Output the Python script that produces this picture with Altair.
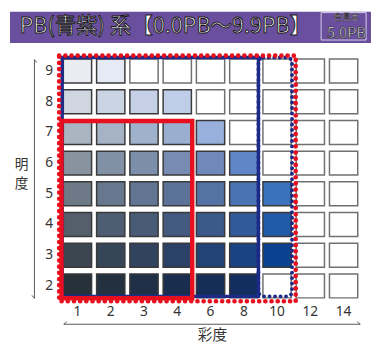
import altair as alt
import pandas as pd

# ---- data ----
chroma = [1, 2, 3, 4, 6, 8, 10, 12, 14]
values = [9, 8, 7, 6, 5, 4, 3, 2]
row9 = ["#e9edf2", "#e5eaf4", "", "", "", "", "", "", ""]
row8 = ["#cfd6df", "#cbd4e2", "#c5d0e6", "#c0cde9", "", "", "", "", ""]
row7 = ["#aab5c2", "#a6b3c6", "#a0b1cb", "#9aaed0", "#97b1dc", "", "", "", ""]
row6 = ["#87939f", "#8290a5", "#7d8eaa", "#788bb0", "#6f89ba", "#5f87c8", "", "", ""]
row5 = ["#6d7986", "#67778d", "#627593", "#5c7298", "#5572a5", "#4a73b3", "#3a72bc", "", ""]
row4 = ["#545f6b", "#4f5d72", "#4a5b78", "#43597f", "#3b598b", "#305a9a", "#215aa6", "", ""]
row3 = ["#3c4651", "#374558", "#32435f", "#2b4166", "#224376", "#1a4384", "#0b428f", "", ""]
row2 = ["#27313a", "#23303f", "#1e2f46", "#192e4e", "#142e58", "#122d5f", "", "", ""]
rows = [row9, row8, row7, row6, row5, row4, row3, row2]

# frames: chroma range and value range they enclose
frame_names = ["blue", "bluedot", "reddot", "red"]
frame_c_lo = [1, 10, 1, 1]
frame_c_hi = [8, 10, 10, 4]
frame_v_lo = [2, 2, 2, 2]
frame_v_hi = [9, 9, 9, 7]

title_text = "PB(青紫) 系【0.0PB～9.9PB】"
sample_top = "色見本"
sample_main = "5.0PB"
x_title = "彩度"
y_title = ["明", "度"]

# ---- build tables ----
recs = []
for v, row in zip(values, rows):
    for i, (c, col) in enumerate(zip(chroma, row)):
        recs.append({
            "idx": i, "v": v, "chroma": c,
            "fill": col if col else "#ffffff",
            "border": "#3a3a3a" if col else "#707070",
        })
cells = pd.DataFrame(recs)
xlab_df = pd.DataFrame({"idx": list(range(len(chroma))), "label": [str(c) for c in chroma]})
ylab_df = pd.DataFrame({"v": values, "label": [str(v) for v in values]})

# paddings (style) for each frame, in scale units
frame_pad = {
    "blue": (-0.46, 0.44, -0.34, 0.44),
    "bluedot": (-0.56, 0.45, -0.34, 0.44),
    "reddot": (-0.55, 0.56, -0.5, 0.5),
    "red": (-0.48, 0.45, -0.4, 0.37),
}
frame_style = {
    "blue": dict(stroke="#1c2a88", strokeWidth=3.5),
    "bluedot": dict(stroke="#1c2a88", strokeWidth=4, strokeDash=[0.01, 5.6], strokeCap="round", cornerRadius=5),
    "reddot": dict(stroke="#e8101e", strokeWidth=4.8, strokeDash=[0.01, 6.3], strokeCap="round"),
    "red": dict(stroke="#e8101e", strokeWidth=4.5),
}

W, H = 306, 251
xs = alt.Scale(domain=[-0.5, 8.5])
ys = alt.Scale(domain=[1.5, 9.5])

base = alt.Chart(cells).transform_calculate(
    x0="datum.idx - 0.425", x1="datum.idx + 0.425",
    y0="datum.v - 0.39", y1="datum.v + 0.39",
)
cell_layer = base.mark_rect(strokeWidth=1.5).encode(
    x=alt.X("x0:Q", scale=xs, axis=None),
    x2="x1:Q",
    y=alt.Y("y0:Q", scale=ys, axis=None),
    y2="y1:Q",
    fill=alt.Fill("fill:N", scale=None),
    stroke=alt.Stroke("border:N", scale=None),
)

frame_layers = []
for name, clo, chi, vlo, vhi in zip(frame_names, frame_c_lo, frame_c_hi, frame_v_lo, frame_v_hi):
    pl, pr, pb, pt = frame_pad[name]
    d = pd.DataFrame([{
        "x0": chroma.index(clo) + pl, "x1": chroma.index(chi) + pr,
        "y0": vlo + pb, "y1": vhi + pt,
    }])
    frame_layers.append(
        alt.Chart(d).mark_rect(fillOpacity=0, **frame_style[name]).encode(
            x=alt.X("x0:Q", scale=xs, axis=None), x2="x1:Q",
            y=alt.Y("y0:Q", scale=ys, axis=None), y2="y1:Q",
        )
    )

xlabels = alt.Chart(xlab_df).mark_text(
    font="Noto Sans", fontSize=14, color="#333333", baseline="middle", align="center"
).encode(x=alt.X("idx:Q", scale=xs, axis=None), y=alt.value(H + 11), text="label:N")
ylabels = alt.Chart(ylab_df).mark_text(
    font="Noto Sans", fontSize=14, color="#333333", baseline="middle", align="right"
).encode(x=alt.value(-8), y=alt.Y("v:Q", scale=ys, axis=None), text="label:N")

one = alt.Data(values=[{"a": 1}])


def deco_rect(x, x2, y, y2, **kw):
    return alt.Chart(one).mark_rect(**kw).encode(
        x=alt.value(x), x2=alt.value(x2), y=alt.value(y), y2=alt.value(y2))


def deco_rule(x, x2, y, y2, **kw):
    return alt.Chart(one).mark_rule(**kw).encode(
        x=alt.value(x), x2=alt.value(x2), y=alt.value(y), y2=alt.value(y2))


def deco_text(x, y, t, **kw):
    return alt.Chart(one).mark_text(**kw).encode(
        x=alt.value(x), y=alt.value(y), text=alt.value(t))


title_bar = deco_rect(-52, 317, -45, -13, fill="#6a4f9e")
title_t = deco_text(-42, -30, title_text, align="left", baseline="middle", font="Noto Sans CJK JP",
                    fontSize=22, fill="#ffffff", stroke="#1a1a1a", strokeWidth=1.0, strokeJoin="round")
box = deco_rect(266, 312, -44, -16, fillOpacity=0, stroke="#d8d0ec", strokeWidth=1)
box_t1 = deco_text(292, -39, sample_top, align="center", baseline="middle", font="Noto Sans CJK JP",
                   fontSize=8.5, fill="#ffffff", stroke="#1a1a1a", strokeWidth=0.4)
box_t2 = deco_text(292, -23, sample_main, align="center", baseline="middle", font="Noto Sans CJK JP",
                   fontSize=15, fill="#ffffff", stroke="#1a1a1a", strokeWidth=0.6)

ax_col = "#555555"
y_line = deco_rule(-27, -27, 4, 248, color=ax_col, strokeWidth=1)
y_hook1 = deco_rule(-27, -24.5, 4, 7, color=ax_col, strokeWidth=1)
y_hook2 = deco_rule(-27, -29.5, 248, 245, color=ax_col, strokeWidth=1)
x_line = deco_rule(3, 306, 274.5, 274.5, color=ax_col, strokeWidth=1)
x_hook1 = deco_rule(3, 6, 274.5, 272, color=ax_col, strokeWidth=1)
x_hook2 = deco_rule(306, 303, 274.5, 272, color=ax_col, strokeWidth=1)
x_lab = deco_text(155, 286, x_title, align="center", baseline="middle", font="Noto Sans CJK JP",
                  fontSize=15, color="#333333")
y_lab1 = deco_text(-40, 112, y_title[0], align="center", baseline="middle",
                   font="Noto Sans CJK JP", fontSize=14, color="#333333")
y_lab2 = deco_text(-40, 131, y_title[1], align="center", baseline="middle",
                   font="Noto Sans CJK JP", fontSize=14, color="#333333")

chart = alt.layer(
    cell_layer, *frame_layers, xlabels, ylabels,
    title_bar, title_t, box, box_t1, box_t2,
    y_line, y_hook1, y_hook2, x_line, x_hook1, x_hook2, x_lab, y_lab1, y_lab2,
).properties(
    width=W, height=H,
    padding={"left": 54, "top": 45, "right": 11, "bottom": 42},
    autosize=alt.AutoSizeParams(type="none"),
    background="#ffffff",
).configure_view(stroke=None)

chart.save("out.html", embed_options={"renderer": "svg", "actions": False})
